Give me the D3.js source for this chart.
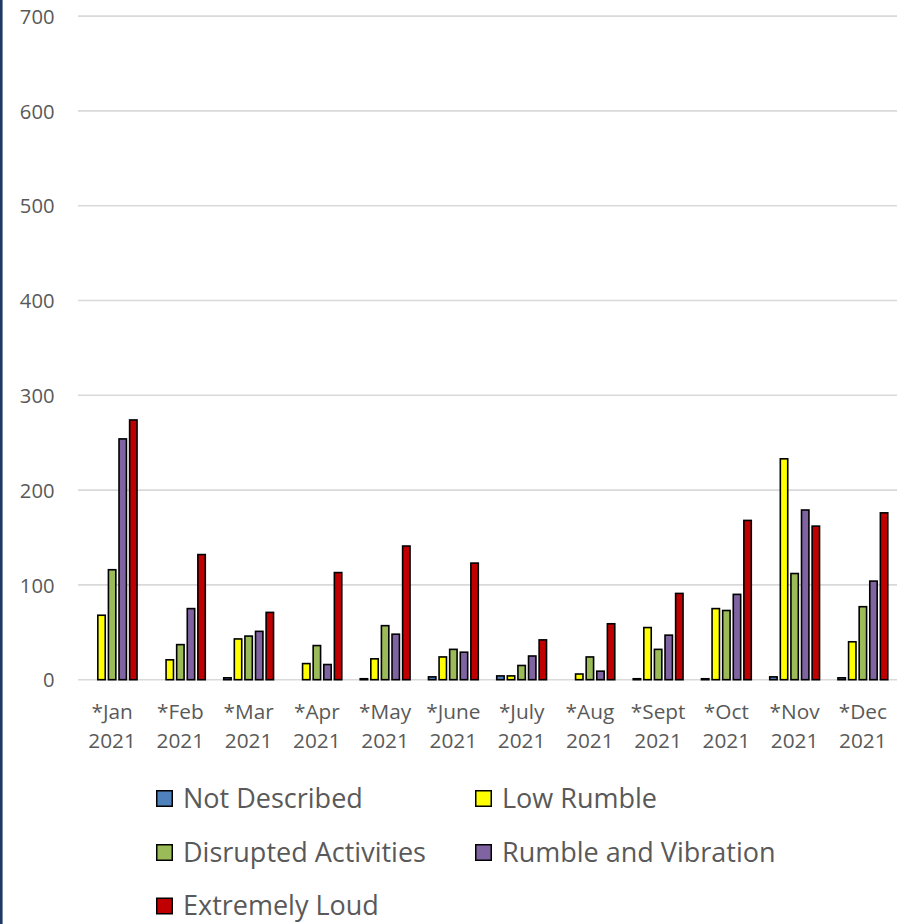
<!DOCTYPE html>
<html>
<head>
<meta charset="utf-8">
<script src="https://cdn.jsdelivr.net/npm/d3@7"></script>
<style>
  html, body { margin: 0; padding: 0; background: #fff; }
  svg { display: block; }
  text { font-family: "Open Sans", "Noto Sans", sans-serif; fill: #595959; }
</style>
</head>
<body>
<svg id="chart" width="907" height="924"></svg>
<script>
const months = ["*Jan", "*Feb", "*Mar", "*Apr", "*May", "*June", "*July", "*Aug", "*Sept", "*Oct", "*Nov", "*Dec"];
const years = ["2021", "2021", "2021", "2021", "2021", "2021", "2021", "2021", "2021", "2021", "2021", "2021"];
const seriesNames = ["Not Described", "Low Rumble", "Disrupted Activities", "Rumble and Vibration", "Extremely Loud"];
const seriesColors = ["#4F81BD", "#FFFF00", "#9BBB59", "#8064A2", "#C00000"];
const notDescribed       = [0, 0, 2, 0, 1, 3, 4, 0, 1, 1, 3, 2];
const lowRumble          = [68, 21, 43, 17, 22, 24, 4, 6, 55, 75, 233, 40];
const disruptedActivities= [116, 37, 46, 36, 57, 32, 15, 24, 32, 73, 112, 77];
const rumbleAndVibration = [254, 75, 51, 16, 48, 29, 25, 9, 47, 90, 179, 104];
const extremelyLoud      = [274, 132, 71, 113, 141, 123, 42, 59, 91, 168, 162, 176];
const yTicks = [0, 100, 200, 300, 400, 500, 600, 700];

const seriesValues = [notDescribed, lowRumble, disruptedActivities, rumbleAndVibration, extremelyLoud];

const svg = d3.select("#chart");
const plotLeft = 78, plotRight = 897, plotTop = 16.1, plotBottom = 679.7;

const x0 = d3.scaleBand().domain(months).range([plotLeft, plotRight]).padding(0);
const y = d3.scaleLinear().domain([0, 700]).range([plotBottom, plotTop]);
const groupHalf = 26.5;
const x1 = d3.scaleBand().domain(seriesNames).range([-groupHalf, groupHalf]).paddingInner(0.15).paddingOuter(0.075);

// left border
svg.append("line").attr("x1", 1.3).attr("x2", 1.3).attr("y1", 0).attr("y2", 924)
  .attr("stroke", "#1F3864").attr("stroke-width", 2.6);

// gridlines
svg.append("g").selectAll("line").data(yTicks).join("line")
  .attr("x1", plotLeft).attr("x2", plotRight)
  .attr("y1", d => y(d)).attr("y2", d => y(d))
  .attr("stroke", "#D9D9D9").attr("stroke-width", 1.6);

// y axis labels
const yAxis = d3.axisLeft(y).tickValues(yTicks).tickSize(0).tickPadding(0);
const gy = svg.append("g").attr("transform", "translate(54.5,0)").call(yAxis);
gy.select(".domain").remove();
gy.selectAll("text").attr("font-size", "20.2px").attr("fill", "#595959")
  .style("font-family", '"Open Sans", sans-serif').attr("dy", "0.36em");

// bars
const rows = months.map((m, i) => ({ m, vals: seriesValues.map((s, k) => ({ k, name: seriesNames[k], v: s[i] })) }));
const groups = svg.append("g").selectAll("g").data(rows).join("g")
  .attr("transform", d => `translate(${x0(d.m) + x0.bandwidth() / 2},0)`);
groups.selectAll("rect").data(d => d.vals.filter(e => e.v > 0)).join("rect")
  .attr("x", d => x1(d.name) + 0.8)
  .attr("width", x1.bandwidth() - 1.6)
  .attr("y", d => y(d.v))
  .attr("height", d => y(0) - y(d.v))
  .attr("fill", d => seriesColors[d.k])
  .attr("stroke", "#000").attr("stroke-width", 1.6);

// x axis labels
const xl = svg.append("g").selectAll("text").data(months).join("text")
  .attr("x", d => x0(d) + x0.bandwidth() / 2)
  .attr("y", 718.5)
  .attr("text-anchor", "middle")
  .attr("font-size", "20.8px");
xl.append("tspan").attr("x", d => x0(d) + x0.bandwidth() / 2).text(d => d);
xl.append("tspan").attr("x", d => x0(d) + x0.bandwidth() / 2).attr("dy", 29).text((d, i) => years[i]);

// legend
const legendPos = [[156, 798.5], [475, 798.5], [156, 852.5], [475, 852.5], [156, 906]];
const lg = svg.append("g").selectAll("g").data(seriesNames).join("g")
  .attr("transform", (d, i) => `translate(${legendPos[i][0]},${legendPos[i][1]})`);
lg.append("rect").attr("x", 0.75).attr("y", -7.75).attr("width", 15.5).attr("height", 15.5)
  .attr("fill", (d, i) => seriesColors[i]).attr("stroke", "#000").attr("stroke-width", 1.5);
lg.append("text").attr("x", 27).attr("y", 0).attr("dy", "0.35em")
  .attr("font-size", "27px").text(d => d);
</script>
</body>
</html>
